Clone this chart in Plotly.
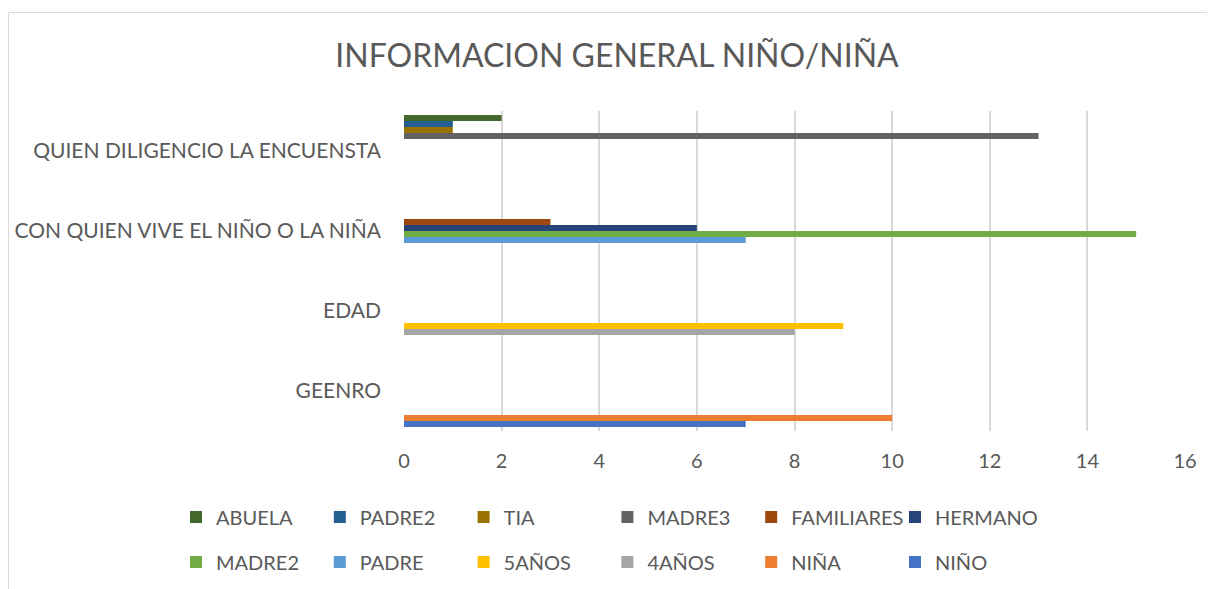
import plotly.graph_objects as go

categories = ["GEENRO", "EDAD", "CON QUIEN VIVE EL NIÑO O LA NIÑA", "QUIEN DILIGENCIO LA ENCUENSTA"]

series_names = ["NIÑO", "NIÑA", "4AÑOS", "5AÑOS", "PADRE", "MADRE2",
                "HERMANO", "FAMILIARES", "MADRE3", "TIA", "PADRE2", "ABUELA"]

# values per series, per category (GEENRO, EDAD, CON QUIEN, QUIEN DILIGENCIO)
nino = [7, None, None, None]
nina = [10, None, None, None]
anos4 = [None, 8, None, None]
anos5 = [None, 9, None, None]
padre = [None, None, 7, None]
madre2 = [None, None, 15, None]
hermano = [None, None, 6, None]
familiares = [None, None, 3, None]
madre3 = [None, None, None, 13]
tia = [None, None, None, 1]
padre2 = [None, None, None, 1]
abuela = [None, None, None, 2]

series_values = [nino, nina, anos4, anos5, padre, madre2,
                 hermano, familiares, madre3, tia, padre2, abuela]

colors = ["#4472C4", "#ED7D31", "#A5A5A5", "#FFC000", "#5B9BD5", "#70AD47",
          "#264478", "#9E480E", "#636363", "#997300", "#255E91", "#43682B"]

x_ticks = [0, 2, 4, 6, 8, 10, 12, 14, 16]

FONT = "Lato"
GRAY = "#595959"

# page has an 8px body margin; figure is sized/positioned to compensate
W, H = 1207, 581
L, R, T, B = 396, 30, 103, 158
PW = W - L - R
PH = H - T - B

fig = go.Figure()
for i, (name, vals, col) in enumerate(zip(series_names, series_values, colors)):
    fig.add_trace(go.Bar(
        y=categories, x=vals, name=name, orientation="h",
        marker=dict(color=col, line=dict(width=0)),
        legend="legend2" if i < 6 else "legend",
    ))

legend_common = dict(
    orientation="h", xref="paper", yref="paper",
    traceorder="reversed", entrywidth=98.8, entrywidthmode="pixels",
    font=dict(family=FONT, size=20, color=GRAY),
    bgcolor="rgba(0,0,0,0)", borderwidth=0, xanchor="left", yanchor="middle",
)

lx = (168 - L) / PW

fig.update_layout(
    width=W, height=H,
    margin=dict(l=L, r=R, t=T, b=B, autoexpand=False),
    paper_bgcolor="white", plot_bgcolor="white",
    barmode="group", bargap=0.1, bargroupgap=0,
    title=dict(text="INFORMACION GENERAL NIÑO/NIÑA", x=(617 - 8) / W, xanchor="center",
               y=1 - (56 - 8) / H, yanchor="middle", yref="container",
               font=dict(family=FONT, size=32, color=GRAY)),
    legend=dict(x=lx, y=(T + PH - (517 - 8)) / PH, **legend_common),
    legend2=dict(x=lx, y=(T + PH - (562 - 8)) / PH, **legend_common),
    xaxis=dict(range=[0, 16], tickvals=x_ticks, showgrid=True, gridcolor="#D9D9D9",
               gridwidth=1.5, zeroline=False, showline=False, ticks="",
               ticklabelstandoff=16,
               tickfont=dict(family=FONT, size=20, color=GRAY)),
    yaxis=dict(type="category", categoryorder="array", categoryarray=categories,
               showgrid=False, zeroline=False, showline=False, ticks="",
               ticklabelstandoff=22,
               tickfont=dict(family=FONT, size=21, color=GRAY)),
    shapes=[dict(type="rect", xref="paper", yref="paper",
                 x0=(0.5 - L) / PW, x1=(1230 - L) / PW,
                 y0=-1, y1=1 + (T - (12.5 - 8)) / PH,
                 line=dict(color="#D9D9D9", width=1), fillcolor="rgba(0,0,0,0)",
                 layer="below")],
    showlegend=True,
)

fig.write_html("out.html")
